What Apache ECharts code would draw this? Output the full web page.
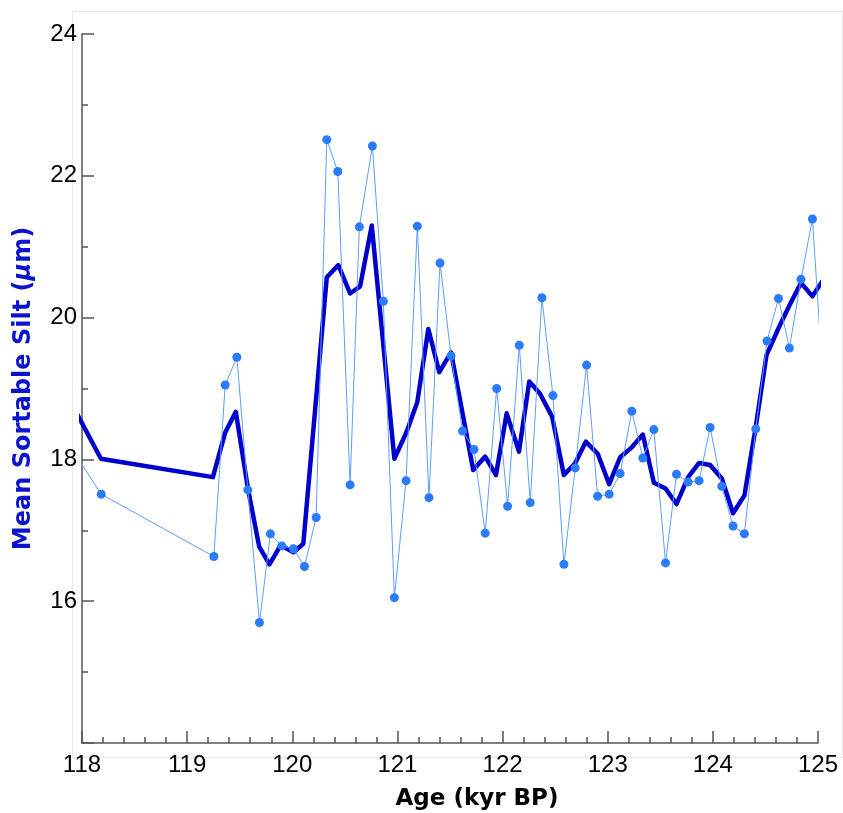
<!DOCTYPE html>
<html>
<head>
<meta charset="utf-8">
<title>Mean Sortable Silt</title>
<script src="https://cdn.jsdelivr.net/npm/echarts@6/dist/echarts.min.js"></script>
<style>
  html, body { margin: 0; padding: 0; background: #ffffff; }
  #chart { width: 843px; height: 813px; }
</style>
</head>
<body>
<div id="chart"></div>
<script>
// Individual sortable-silt measurements (age in kyr BP, mean size in µm)
var sampleAge = [
  117.95, 118.183, 119.254, 119.362, 119.473, 119.577, 119.688, 119.792, 119.901, 120.011,
  120.116, 120.227, 120.328, 120.433, 120.55, 120.638, 120.762, 120.866, 120.971, 121.082,
  121.189, 121.30, 121.405, 121.51, 121.62, 121.728, 121.835, 121.944, 122.048, 122.159,
  122.263, 122.374, 122.479, 122.583, 122.691, 122.799, 122.904, 123.014, 123.118, 123.229,
  123.334, 123.439, 123.55, 123.654, 123.765, 123.869, 123.974, 124.085, 124.192, 124.30,
  124.408, 124.515, 124.624, 124.728, 124.838, 124.947, 125.053
];
var sampleSilt = [
  18.04, 17.51, 16.63, 19.05, 19.44, 17.57, 15.70, 16.95, 16.78, 16.74,
  16.49, 17.18, 22.51, 22.06, 17.64, 21.28, 22.42, 20.23, 16.05, 17.70,
  21.29, 17.46, 20.77, 19.46, 18.40, 18.14, 16.96, 19.00, 17.34, 19.61,
  17.39, 20.28, 18.90, 16.52, 17.88, 19.33, 17.48, 17.51, 17.80, 18.68,
  18.02, 18.42, 16.54, 17.79, 17.68, 17.70, 18.45, 17.62, 17.06, 16.95,
  18.43, 19.67, 20.27, 19.57, 20.54, 21.39, 19.00
];

// Smoothed record (running mean)
var meanAge = [
  117.95, 118.18, 119.245, 119.362, 119.463, 119.577, 119.685, 119.783, 119.89, 120.011,
  120.105, 120.328, 120.438, 120.55, 120.645, 120.756, 120.971, 121.088, 121.189, 121.294,
  121.398, 121.51, 121.721, 121.835, 121.937, 122.039, 122.156, 122.254, 122.355, 122.472,
  122.583, 122.688, 122.792, 122.905, 123.014, 123.118, 123.229, 123.334, 123.439, 123.55,
  123.654, 123.765, 123.869, 123.974, 124.085, 124.192, 124.30, 124.408, 124.51, 124.624,
  124.728, 124.838, 124.947, 125.053
];
var meanSilt = [
  18.65, 18.01, 17.75, 18.38, 18.67, 17.60, 16.77, 16.52, 16.79, 16.69,
  16.81, 20.57, 20.74, 20.34, 20.44, 21.30, 18.01, 18.39, 18.81, 19.84,
  19.23, 19.51, 17.85, 18.04, 17.78, 18.65, 18.11, 19.10, 18.93, 18.60,
  17.78, 17.94, 18.25, 18.08, 17.65, 18.03, 18.17, 18.35, 17.67, 17.59,
  17.37, 17.75, 17.95, 17.92, 17.73, 17.24, 17.49, 18.46, 19.47, 19.85,
  20.17, 20.49, 20.30, 20.54
];

// Axis ranges and labelled ticks
var ageRange = [118, 125];
var siltRange = [14, 24];
var siltLabels = [16, 18, 20, 22, 24];

function pairs(xs, ys) {
  return xs.map(function (x, i) { return [x, ys[i]]; });
}

var axisColor = '#555555';
var chart = echarts.init(document.getElementById('chart'), null, { renderer: 'canvas' });

chart.setOption({
  animation: false,
  backgroundColor: '#ffffff',
  grid: { left: 82, right: 25, top: 34, bottom: 70, outerBoundsMode: 'none' },
  graphic: [
    {
      type: 'rect', z: -10, silent: true,
      shape: { x: 72.5, y: 11.5, width: 770, height: 746 },
      style: { fill: 'none', stroke: '#e8e8e8', lineWidth: 1 }
    },
    {
      type: 'text', silent: true,
      x: 477, y: 799,
      style: {
        text: 'Age (kyr BP)',
        font: 'bold 23px "DejaVu Sans"',
        fill: '#000000',
        align: 'center',
        verticalAlign: 'middle'
      }
    }
  ],
  xAxis: {
    type: 'value',
    min: ageRange[0], max: ageRange[1], interval: 1,
    axisLine: { show: true, onZero: false, lineStyle: { color: axisColor, width: 1.5 } },
    axisTick: { show: true, inside: true, length: 12, lineStyle: { color: axisColor, width: 1.5 } },
    minorTick: { show: true, splitNumber: 5, length: 6, lineStyle: { color: axisColor, width: 1.5 } },
    splitLine: { show: false },
    minorSplitLine: { show: false },
    axisLabel: {
      margin: 10, showMinLabel: true, showMaxLabel: true,
      fontFamily: '"Liberation Sans", Arial, sans-serif', fontSize: 24, color: '#000000'
    }
  },
  yAxis: {
    type: 'value',
    min: siltRange[0], max: siltRange[1], interval: 2,
    name: 'Mean Sortable Silt ({mu|μ}m)',
    nameLocation: 'middle',
    nameRotate: 90,
    nameGap: 46,
    nameTextStyle: {
      fontFamily: '"DejaVu Sans"', fontWeight: 'bold', fontSize: 24, color: '#0a14cc',
      rich: {
        mu: { fontFamily: '"DejaVu Sans"', fontWeight: 'bold', fontStyle: 'italic', fontSize: 24, color: '#0a14cc' }
      }
    },
    axisLine: { show: true, onZero: false, lineStyle: { color: axisColor, width: 1.5 } },
    axisTick: { show: true, inside: true, length: 12, lineStyle: { color: axisColor, width: 1.5 } },
    minorTick: { show: true, splitNumber: 2, length: 6, lineStyle: { color: axisColor, width: 1.5 } },
    splitLine: { show: false },
    minorSplitLine: { show: false },
    axisLabel: {
      margin: 5, showMinLabel: true, showMaxLabel: true,
      fontFamily: '"Liberation Sans", Arial, sans-serif', fontSize: 24, color: '#000000',
      padding: [4, 0, 0, 0],
      formatter: function (v) { return siltLabels.indexOf(v) >= 0 ? String(v) : ''; }
    }
  },
  series: [
    {
      name: 'Running mean',
      type: 'line',
      data: pairs(meanAge, meanSilt),
      showSymbol: false,
      symbol: 'none',
      clip: true,
      z: 2,
      lineStyle: { color: '#0000cd', width: 4.5, join: 'round' }
    },
    {
      name: 'Samples',
      type: 'line',
      data: pairs(sampleAge, sampleSilt),
      symbol: 'circle',
      symbolSize: 9,
      showSymbol: true,
      clip: true,
      z: 3,
      itemStyle: { color: '#2a7bff', borderWidth: 0 },
      lineStyle: { color: '#5c9dff', width: 1 }
    }
  ]
});
</script>
</body>
</html>
